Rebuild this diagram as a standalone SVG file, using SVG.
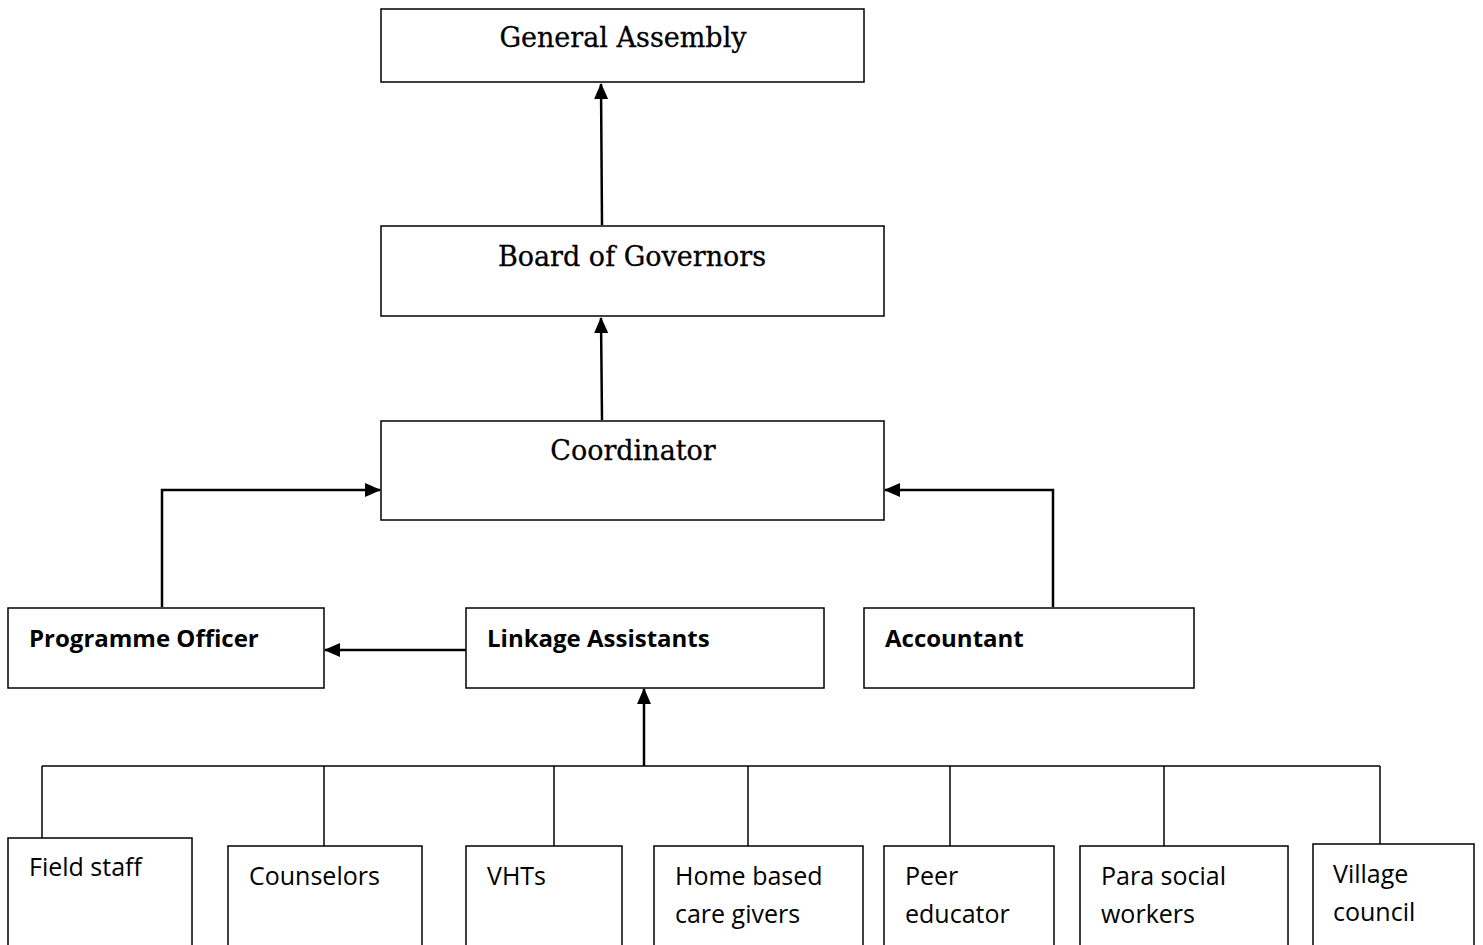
<svg xmlns="http://www.w3.org/2000/svg" width="1483" height="945" viewBox="0 0 1483 945">
<style>
.box{fill:#fff;stroke:#000;stroke-width:1.5}
.ser{font-family:"DejaVu Serif","Liberation Serif",serif;font-size:27px;fill:#000;stroke:#000;stroke-width:0.3;text-anchor:middle}
.hb{font-family:"Open Sans","Liberation Sans",sans-serif;font-size:24px;font-weight:bold;fill:#000}
.tx{font-family:"Open Sans","Liberation Sans",sans-serif;font-size:25px;fill:#000}
.c{fill:none;stroke:#000;stroke-width:2.5}
.b{fill:none;stroke:#000;stroke-width:1.5}
</style>
<defs>
<marker id="ah" markerWidth="16" markerHeight="14" refX="15" refY="7" orient="auto" markerUnits="userSpaceOnUse">
<path d="M0,0 L16,7 L0,14 Z" fill="#000"/>
</marker>
</defs>
<rect width="1483" height="945" fill="#fff"/>
<g id="connectors">
<path class="c" d="M602,225 L601,84" marker-end="url(#ah)"/>
<path class="c" d="M602,420 L601,318" marker-end="url(#ah)"/>
<path class="c" d="M162,607 L162,490 L380,490" marker-end="url(#ah)"/>
<path class="c" d="M1053,607 L1053,490 L885,490" marker-end="url(#ah)"/>
<path class="c" d="M466,650 L325,650" marker-end="url(#ah)"/>
<path class="c" d="M644,766 L644,689" marker-end="url(#ah)"/>
<path class="b" d="M42,766 L1380,766"/>
<path class="b" d="M42,766 L42,838"/>
<path class="b" d="M324,766 L324,846"/>
<path class="b" d="M554,766 L554,846"/>
<path class="b" d="M748,766 L748,846"/>
<path class="b" d="M950,766 L950,846"/>
<path class="b" d="M1164,766 L1164,846"/>
<path class="b" d="M1380,766 L1380,844"/>
</g>
<g id="general-assembly">
<rect class="box" x="381" y="9" width="483" height="73"/>
<text class="ser" x="623" y="47">General Assembly</text>
</g>
<g id="board-of-governors">
<rect class="box" x="381" y="226" width="503" height="90"/>
<text class="ser" x="632" y="266">Board of Governors</text>
</g>
<g id="coordinator">
<rect class="box" x="381" y="421" width="503" height="99"/>
<text class="ser" x="633" y="460">Coordinator</text>
</g>
<g id="programme-officer">
<rect class="box" x="8" y="608" width="316" height="80"/>
<text class="hb" x="29" y="647">Programme Officer</text>
</g>
<g id="linkage-assistants">
<rect class="box" x="466" y="608" width="358" height="80"/>
<text class="hb" x="487" y="647">Linkage Assistants</text>
</g>
<g id="accountant">
<rect class="box" x="864" y="608" width="330" height="80"/>
<text class="hb" x="885" y="647">Accountant</text>
</g>
<g id="field-staff">
<rect class="box" x="8" y="838" width="184" height="120"/>
<text class="tx" x="29" y="876">Field staff</text>
</g>
<g id="counselors">
<rect class="box" x="228" y="846" width="194" height="120"/>
<text class="tx" x="249" y="885">Counselors</text>
</g>
<g id="vhts">
<rect class="box" x="466" y="846" width="156" height="120"/>
<text class="tx" x="487" y="885">VHTs</text>
</g>
<g id="home-based-care-givers">
<rect class="box" x="654" y="846" width="209" height="120"/>
<text class="tx" x="675" y="885">Home based</text>
<text class="tx" x="675" y="923">care givers</text>
</g>
<g id="peer-educator">
<rect class="box" x="884" y="846" width="170" height="120"/>
<text class="tx" x="905" y="885">Peer</text>
<text class="tx" x="905" y="923">educator</text>
</g>
<g id="para-social-workers">
<rect class="box" x="1080" y="846" width="208" height="120"/>
<text class="tx" x="1101" y="885">Para social</text>
<text class="tx" x="1101" y="923">workers</text>
</g>
<g id="village-council">
<rect class="box" x="1313" y="844" width="161" height="120"/>
<text class="tx" x="1333" y="883">Village</text>
<text class="tx" x="1333" y="921">council</text>
</g>
</svg>
